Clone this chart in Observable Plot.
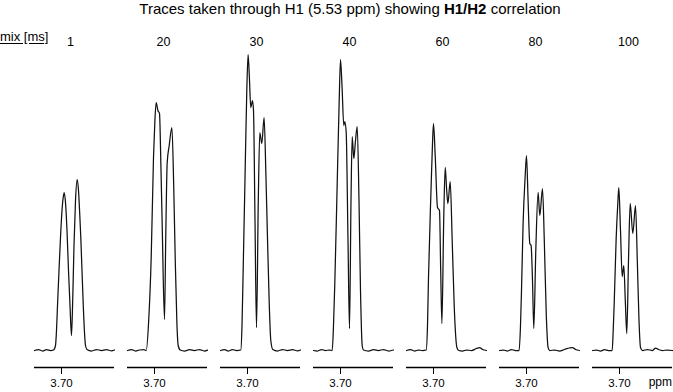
<!DOCTYPE html>
<html>
<head>
<meta charset="utf-8">
<script src="https://cdn.jsdelivr.net/npm/d3@7"></script>
<script src="https://cdn.jsdelivr.net/npm/@observablehq/plot@0.6"></script>
<style>
  html, body { margin: 0; padding: 0; background: #fff; }
  #wrap { position: relative; width: 673px; height: 392px; font-family: "Liberation Sans", Arial, sans-serif; color: #000; }
  #title { position: absolute; left: 0; width: 700px; top: 0px; text-align: center; font-size: 15px; line-height: 18px; white-space: nowrap; }
  #mix { position: absolute; left: 0; top: 29px; font-size: 13px; line-height: 16px; text-decoration: underline; text-underline-offset: 2px; }
  #ppm { position: absolute; right: 1px; top: 375px; font-size: 12px; line-height: 14px; }
  #chart { position: absolute; left: 0; top: 0; }
</style>
</head>
<body>
<div id="wrap">
  <div id="chart"></div>
  <div id="title">Traces taken through H1 (5.53 ppm) showing <b>H1/H2</b> correlation</div>
  <div id="mix">mix [ms]</div>
  <div id="ppm">ppm</div>
</div>
<script>
// mixing times (ms), one trace per mixing time
const mixTimes = [1, 20, 30, 40, 60, 80, 100];
const tickValues = [3.70];

// chemical shift (ppm) and intensity (arbitrary units)
const ppm_1 = [3.727,3.723,3.719,3.715,3.711,3.708,3.706,3.705,3.704,3.7025,3.701,3.6995,3.6983,3.6973,3.696,3.6945,3.693,3.6915,3.690,3.6888,3.6875,3.686,3.6843,3.683,3.6817,3.6807,3.6795,3.6783,3.677,3.676,3.6745,3.670,3.665,3.660,3.655,3.650,3.647];
const int_1 = [0,1,-0.5,0.8,0,0.5,5,20,45,80,113,140,153,158,148,120,80,45,15,50,105,150,171,160,135,113,80,47,18,5,1,-0.5,1,0,0.8,-0.3,0.5];

const ppm_20 = [3.727,3.723,3.719,3.715,3.711,3.7083,3.7058,3.7033,3.701,3.6996,3.6983,3.6966,3.695,3.6936,3.6923,3.690,3.6888,3.6873,3.6853,3.6826,3.6808,3.6793,3.6776,3.6763,3.6743,3.670,3.665,3.660,3.655,3.650,3.647];
const int_20 = [0,1,-0.5,0.5,1,0,30,93,193,230,248,240,237,185,125,31,110,188,205,223,165,93,27,5,0.5,-0.5,0.8,0,1,-0.5,0.3];

const ppm_30 = [3.727,3.723,3.719,3.715,3.711,3.7067,3.7055,3.7044,3.7024,3.7007,3.6994,3.6982,3.6967,3.695,3.694,3.6925,3.691,3.6892,3.6877,3.6857,3.6834,3.6817,3.6802,3.6782,3.6767,3.6747,3.670,3.665,3.660,3.655,3.650,3.647];
const int_30 = [0,0.8,-0.5,1,0,0.5,25,77,177,260,296,275,243,250,240,130,23,150,218,207,233,180,120,45,10,1,-0.5,1,0,0.8,-0.3,0.5];

const ppm_40 = [3.727,3.723,3.719,3.715,3.711,3.7083,3.707,3.7057,3.7033,3.7013,3.700,3.6985,3.6967,3.6957,3.6943,3.6925,3.691,3.6895,3.6883,3.6867,3.685,3.6833,3.6815,3.680,3.6783,3.677,3.672,3.667,3.662,3.657,3.652,3.647];
const int_40 = [0,-0.5,1,0,0.5,0,25,67,167,250,291,265,225,229,218,110,22,150,214,192,210,224,150,60,5,0.5,-0.5,0.8,0,1,-0.5,0.5];

const ppm_60 = [3.727,3.723,3.719,3.715,3.711,3.7073,3.706,3.705,3.7026,3.701,3.700,3.6983,3.696,3.694,3.6928,3.6916,3.6898,3.6883,3.6868,3.6856,3.6833,3.6813,3.6793,3.6766,3.6748,3.671,3.667,3.662,3.657,3.654,3.651,3.647];
const int_60 = [0,1,-0.5,0.5,0,0.5,25,73,157,207,227,195,143,140,80,27,130,183,160,147,169,110,45,3,0,-0.5,0.5,0,2,3,1,0];

const ppm_80 = [3.727,3.723,3.719,3.715,3.711,3.7074,3.706,3.705,3.7034,3.7014,3.700,3.6984,3.6967,3.6954,3.694,3.6927,3.6907,3.6884,3.6867,3.684,3.6822,3.6802,3.6784,3.6767,3.672,3.667,3.662,3.657,3.654,3.651,3.647];
const int_80 = [0,0.5,-0.5,1,0,0,25,60,127,173,195,150,107,105,70,22,100,158,135,162,110,35,3,0,0.5,-0.5,1,2.5,3,1,0];

const ppm_100 = [3.727,3.723,3.719,3.715,3.711,3.7073,3.7063,3.7053,3.7033,3.7017,3.7007,3.699,3.6973,3.6957,3.6942,3.6927,3.691,3.6893,3.6867,3.684,3.6822,3.6805,3.679,3.677,3.672,3.667,3.664,3.661,3.657,3.652,3.647];
const int_100 = [0,0.5,-0.5,0.8,0,0,20,47,113,147,163,120,74,85,50,17,90,147,117,145,90,30,3,0,1,0,2.5,1,0,0.5,0];

const ppmSeries = [ppm_1, ppm_20, ppm_30, ppm_40, ppm_60, ppm_80, ppm_100];
const intSeries = [int_1, int_20, int_30, int_40, int_60, int_80, int_100];

const rows = mixTimes.flatMap((m, i) =>
  ppmSeries[i].map((p, j) => ({mix: m, ppm: p, intensity: intSeries[i][j]}))
);

const chart = Plot.plot({
  width: 673,
  height: 392,
  marginLeft: 33,
  marginRight: 0,
  marginTop: 45,
  marginBottom: 25,
  style: {fontFamily: "'Liberation Sans', Arial, sans-serif", fontSize: "11.5px", color: "#000", background: "#fff"},
  fx: {domain: mixTimes, paddingInner: 0.143, paddingOuter: 0, axis: null, label: null},
  x: {domain: [3.727, 3.647], ticks: tickValues, tickFormat: d => d.toFixed(2), tickSize: 7, tickPadding: 4, label: null},
  y: {domain: [-17, 305], axis: null},
  marks: [
    Plot.ruleY([-17], {stroke: "#000", strokeWidth: 1.3}),
    Plot.line(rows, {fx: "mix", x: "ppm", y: "intensity", stroke: "#111", strokeWidth: 1.25, curve: "monotone-x"}),
    Plot.text(mixTimes, {fx: d => d, text: d => String(d), frameAnchor: "top", dy: -8, dx: -4, fontSize: 12.5, fill: "#000"})
  ]
});
document.getElementById("chart").appendChild(chart);
</script>
</body>
</html>
